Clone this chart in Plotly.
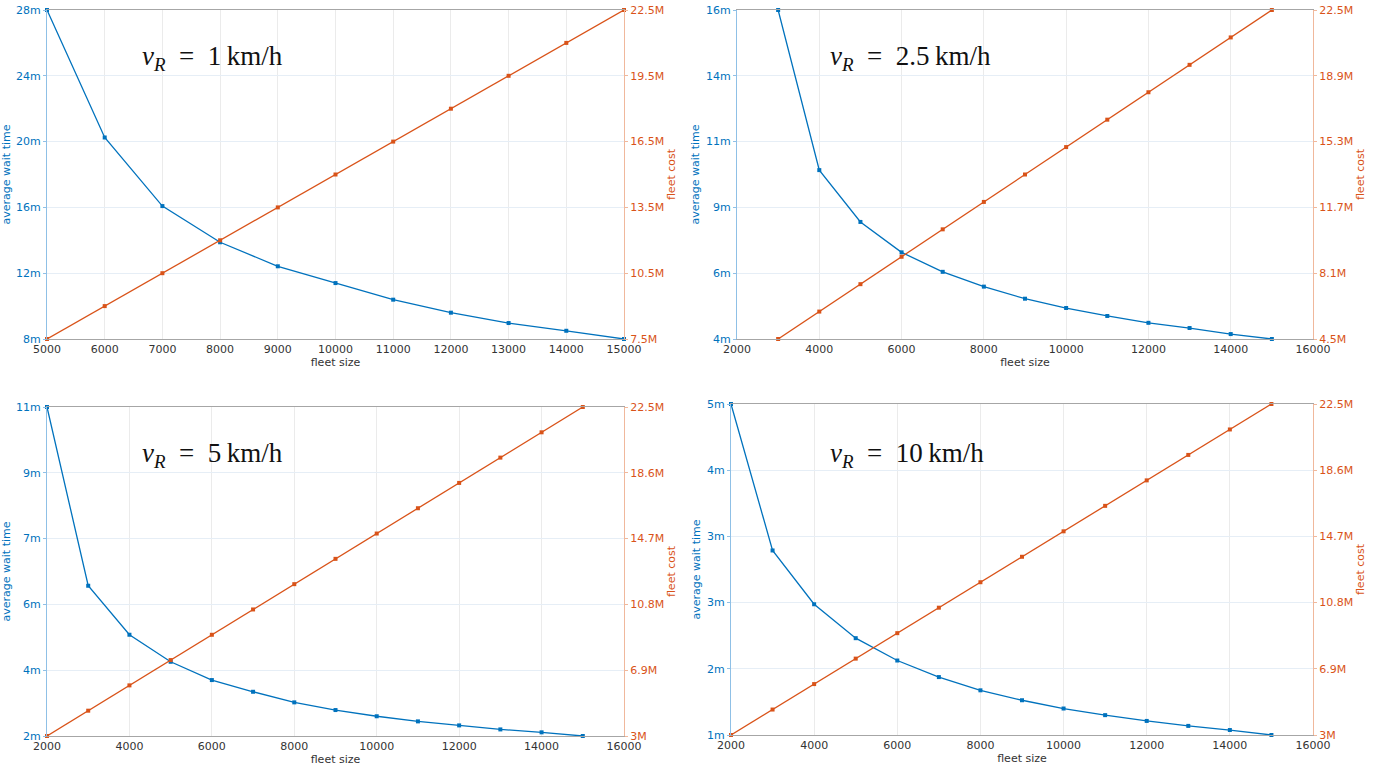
import plotly.graph_objects as go

# ---------------- data ----------------
fleet_tl = [5000, 6000, 7000, 8000, 9000, 10000, 11000, 12000, 13000, 14000, 15000]
wait_tl = [28.0, 20.25, 16.08, 13.88, 12.42, 11.4, 10.39, 9.6, 8.97, 8.5, 8.0]
cost_tl = [7.5, 9.0, 10.5, 12.0, 13.5, 15.0, 16.5, 18.0, 19.5, 21.0, 22.5]

fleet_tr = [3000, 4000, 5000, 6000, 7000, 8000, 9000, 10000, 11000, 12000, 13000, 14000, 15000]
wait_tr = [16.0, 10.16, 8.27, 7.16, 6.45, 5.91, 5.47, 5.13, 4.84, 4.59, 4.4, 4.18, 4.0]
cost_tr = [4.5, 6.0, 7.5, 9.0, 10.5, 12.0, 13.5, 15.0, 16.5, 18.0, 19.5, 21.0, 22.5]

fleet_bl = [2000, 3000, 4000, 5000, 6000, 7000, 8000, 9000, 10000, 11000, 12000, 13000, 14000, 15000]
wait_bl = [11.0, 6.11, 4.77, 4.03, 3.53, 3.21, 2.92, 2.71, 2.54, 2.4, 2.29, 2.18, 2.1, 2.0]
cost_bl = [3.0, 4.5, 6.0, 7.5, 9.0, 10.5, 12.0, 13.5, 15.0, 16.5, 18.0, 19.5, 21.0, 22.5]

fleet_br = [2000, 3000, 4000, 5000, 6000, 7000, 8000, 9000, 10000, 11000, 12000, 13000, 14000, 15000]
wait_br = [5.0, 3.23, 2.58, 2.17, 1.9, 1.7, 1.54, 1.42, 1.32, 1.24, 1.17, 1.11, 1.06, 1.0]
cost_br = [3.0, 4.5, 6.0, 7.5, 9.0, 10.5, 12.0, 13.5, 15.0, 16.5, 18.0, 19.5, 21.0, 22.5]

speed_labels = ["1", "2.5", "5", "10"]

xticks_tl = [5000, 6000, 7000, 8000, 9000, 10000, 11000, 12000, 13000, 14000, 15000]
xticks_other = [2000, 4000, 6000, 8000, 10000, 12000, 14000, 16000]

wait_tickvals = [
    [8, 12, 16, 20, 24, 28],
    [4, 6.4, 8.8, 11.2, 13.6, 16],
    [2, 3.8, 5.6, 7.4, 9.2, 11],
    [1, 1.8, 2.6, 3.4, 4.2, 5],
]
wait_ticktext = [
    ["8m", "12m", "16m", "20m", "24m", "28m"],
    ["4m", "6m", "9m", "11m", "14m", "16m"],
    ["2m", "4m", "6m", "7m", "9m", "11m"],
    ["1m", "2m", "3m", "3m", "4m", "5m"],
]
cost_tickvals = [
    [7.5, 10.5, 13.5, 16.5, 19.5, 22.5],
    [4.5, 8.1, 11.7, 15.3, 18.9, 22.5],
    [3, 6.9, 10.8, 14.7, 18.6, 22.5],
    [3, 6.9, 10.8, 14.7, 18.6, 22.5],
]
cost_ticktext = [
    ["7.5M", "10.5M", "13.5M", "16.5M", "19.5M", "22.5M"],
    ["4.5M", "8.1M", "11.7M", "15.3M", "18.9M", "22.5M"],
    ["3M", "6.9M", "10.8M", "14.7M", "18.6M", "22.5M"],
    ["3M", "6.9M", "10.8M", "14.7M", "18.6M", "22.5M"],
]

# ---------------- style ----------------
BLUE = "#0072BD"
ORANGE = "#D95319"
FONT = "DejaVu Sans"
W, H = 1379, 771

panels = [
    dict(fleet=fleet_tl, wait=wait_tl, cost=cost_tl, xr=[5000, 15000], xt=xticks_tl,
         yr=[8, 28], cr=[7.5, 22.5], xd=[47, 624], yd=[10, 339]),
    dict(fleet=fleet_tr, wait=wait_tr, cost=cost_tr, xr=[2000, 16000], xt=xticks_other,
         yr=[4, 16], cr=[4.5, 22.5], xd=[737, 1313], yd=[10, 339]),
    dict(fleet=fleet_bl, wait=wait_bl, cost=cost_bl, xr=[2000, 16000], xt=xticks_other,
         yr=[2, 11], cr=[3, 22.5], xd=[47, 624], yd=[407, 736]),
    dict(fleet=fleet_br, wait=wait_br, cost=cost_br, xr=[2000, 16000], xt=xticks_other,
         yr=[1, 5], cr=[3, 22.5], xd=[731, 1313], yd=[404, 735]),
]

fig = go.Figure()
layout = dict(
    width=W, height=H, margin=dict(l=0, r=0, t=0, b=0, autoexpand=False),
    paper_bgcolor="white", plot_bgcolor="white", showlegend=False,
    font=dict(family=FONT, size=11, color="#262626"),
)
annotations = []

for i, p in enumerate(panels):
    xa = f"x{i+1}" if i else "x"
    yl = f"y{2*i+1}" if i else "y"
    yr_ = f"y{2*i+2}"
    xkey = f"xaxis{i+1}" if i else "xaxis"
    ylkey = f"yaxis{2*i+1}" if i else "yaxis"
    yrkey = f"yaxis{2*i+2}"

    fig.add_trace(go.Scatter(x=p["fleet"], y=p["wait"], xaxis=xa, yaxis=yl, mode="lines+markers",
                             line=dict(color=BLUE, width=1.3),
                             marker=dict(symbol="square", size=4, color=BLUE),
                             cliponaxis=False))
    fig.add_trace(go.Scatter(x=p["fleet"], y=p["cost"], xaxis=xa, yaxis=yr_, mode="lines+markers",
                             line=dict(color=ORANGE, width=1.3),
                             marker=dict(symbol="square", size=4, color=ORANGE),
                             cliponaxis=False))

    xd = [p["xd"][0] / W, p["xd"][1] / W]
    yd = [1 - p["yd"][1] / H, 1 - p["yd"][0] / H]

    layout[xkey] = dict(
        domain=xd, anchor=yl, range=p["xr"], tickvals=p["xt"],
        ticktext=[str(v) for v in p["xt"]], automargin=False,
        showgrid=True, gridcolor="#ebebeb", gridwidth=1,
        showline=True, linecolor="#a6a6a6", linewidth=1, mirror=True,
        ticks="", zeroline=False,
        tickfont=dict(family=FONT, size=11, color="#333333"),
        title=dict(text="fleet size", standoff=3, font=dict(family=FONT, size=11, color="#333333")),
    )
    layout[ylkey] = dict(
        domain=yd, anchor=xa, range=p["yr"], tickvals=wait_tickvals[i], ticktext=wait_ticktext[i],
        automargin=False,
        showgrid=True, gridcolor="#e6eef6", gridwidth=1,
        showline=True, linecolor="#8fc0e6", linewidth=1,
        ticks="outside", ticklen=3, tickcolor="#8fc0e6", zeroline=False,
        tickfont=dict(family=FONT, size=11, color=BLUE),
        title=dict(text="average wait time", standoff=4, font=dict(family=FONT, size=11, color=BLUE)),
    )
    layout[yrkey] = dict(
        domain=yd, anchor=xa, overlaying=yl, side="right", range=p["cr"],
        tickvals=cost_tickvals[i], ticktext=cost_ticktext[i], automargin=False,
        showgrid=False, showline=True, linecolor="#f0b89c", linewidth=1,
        ticks="outside", ticklen=3, tickcolor="#f0b89c", zeroline=False,
        tickfont=dict(family=FONT, size=11, color=ORANGE),
        title=dict(text="fleet cost", standoff=4, font=dict(family=FONT, size=11, color=ORANGE)),
    )

    ax = 140 / W if i in (0, 2) else 828 / W
    ay = 1 - 58 / H if i < 2 else 1 - 455 / H
    annotations.append(dict(
        xref="paper", yref="paper", x=ax, y=ay, xanchor="left", yanchor="middle",
        showarrow=False,
        text=f"<i>v</i><sub><i>R</i></sub>\u2002=\u2002{speed_labels[i]}\u2009km/h",
        font=dict(family="Liberation Serif", size=27, color="#111111"),
    ))

layout["annotations"] = annotations
fig.update_layout(**layout)
fig.write_html("out.html")
